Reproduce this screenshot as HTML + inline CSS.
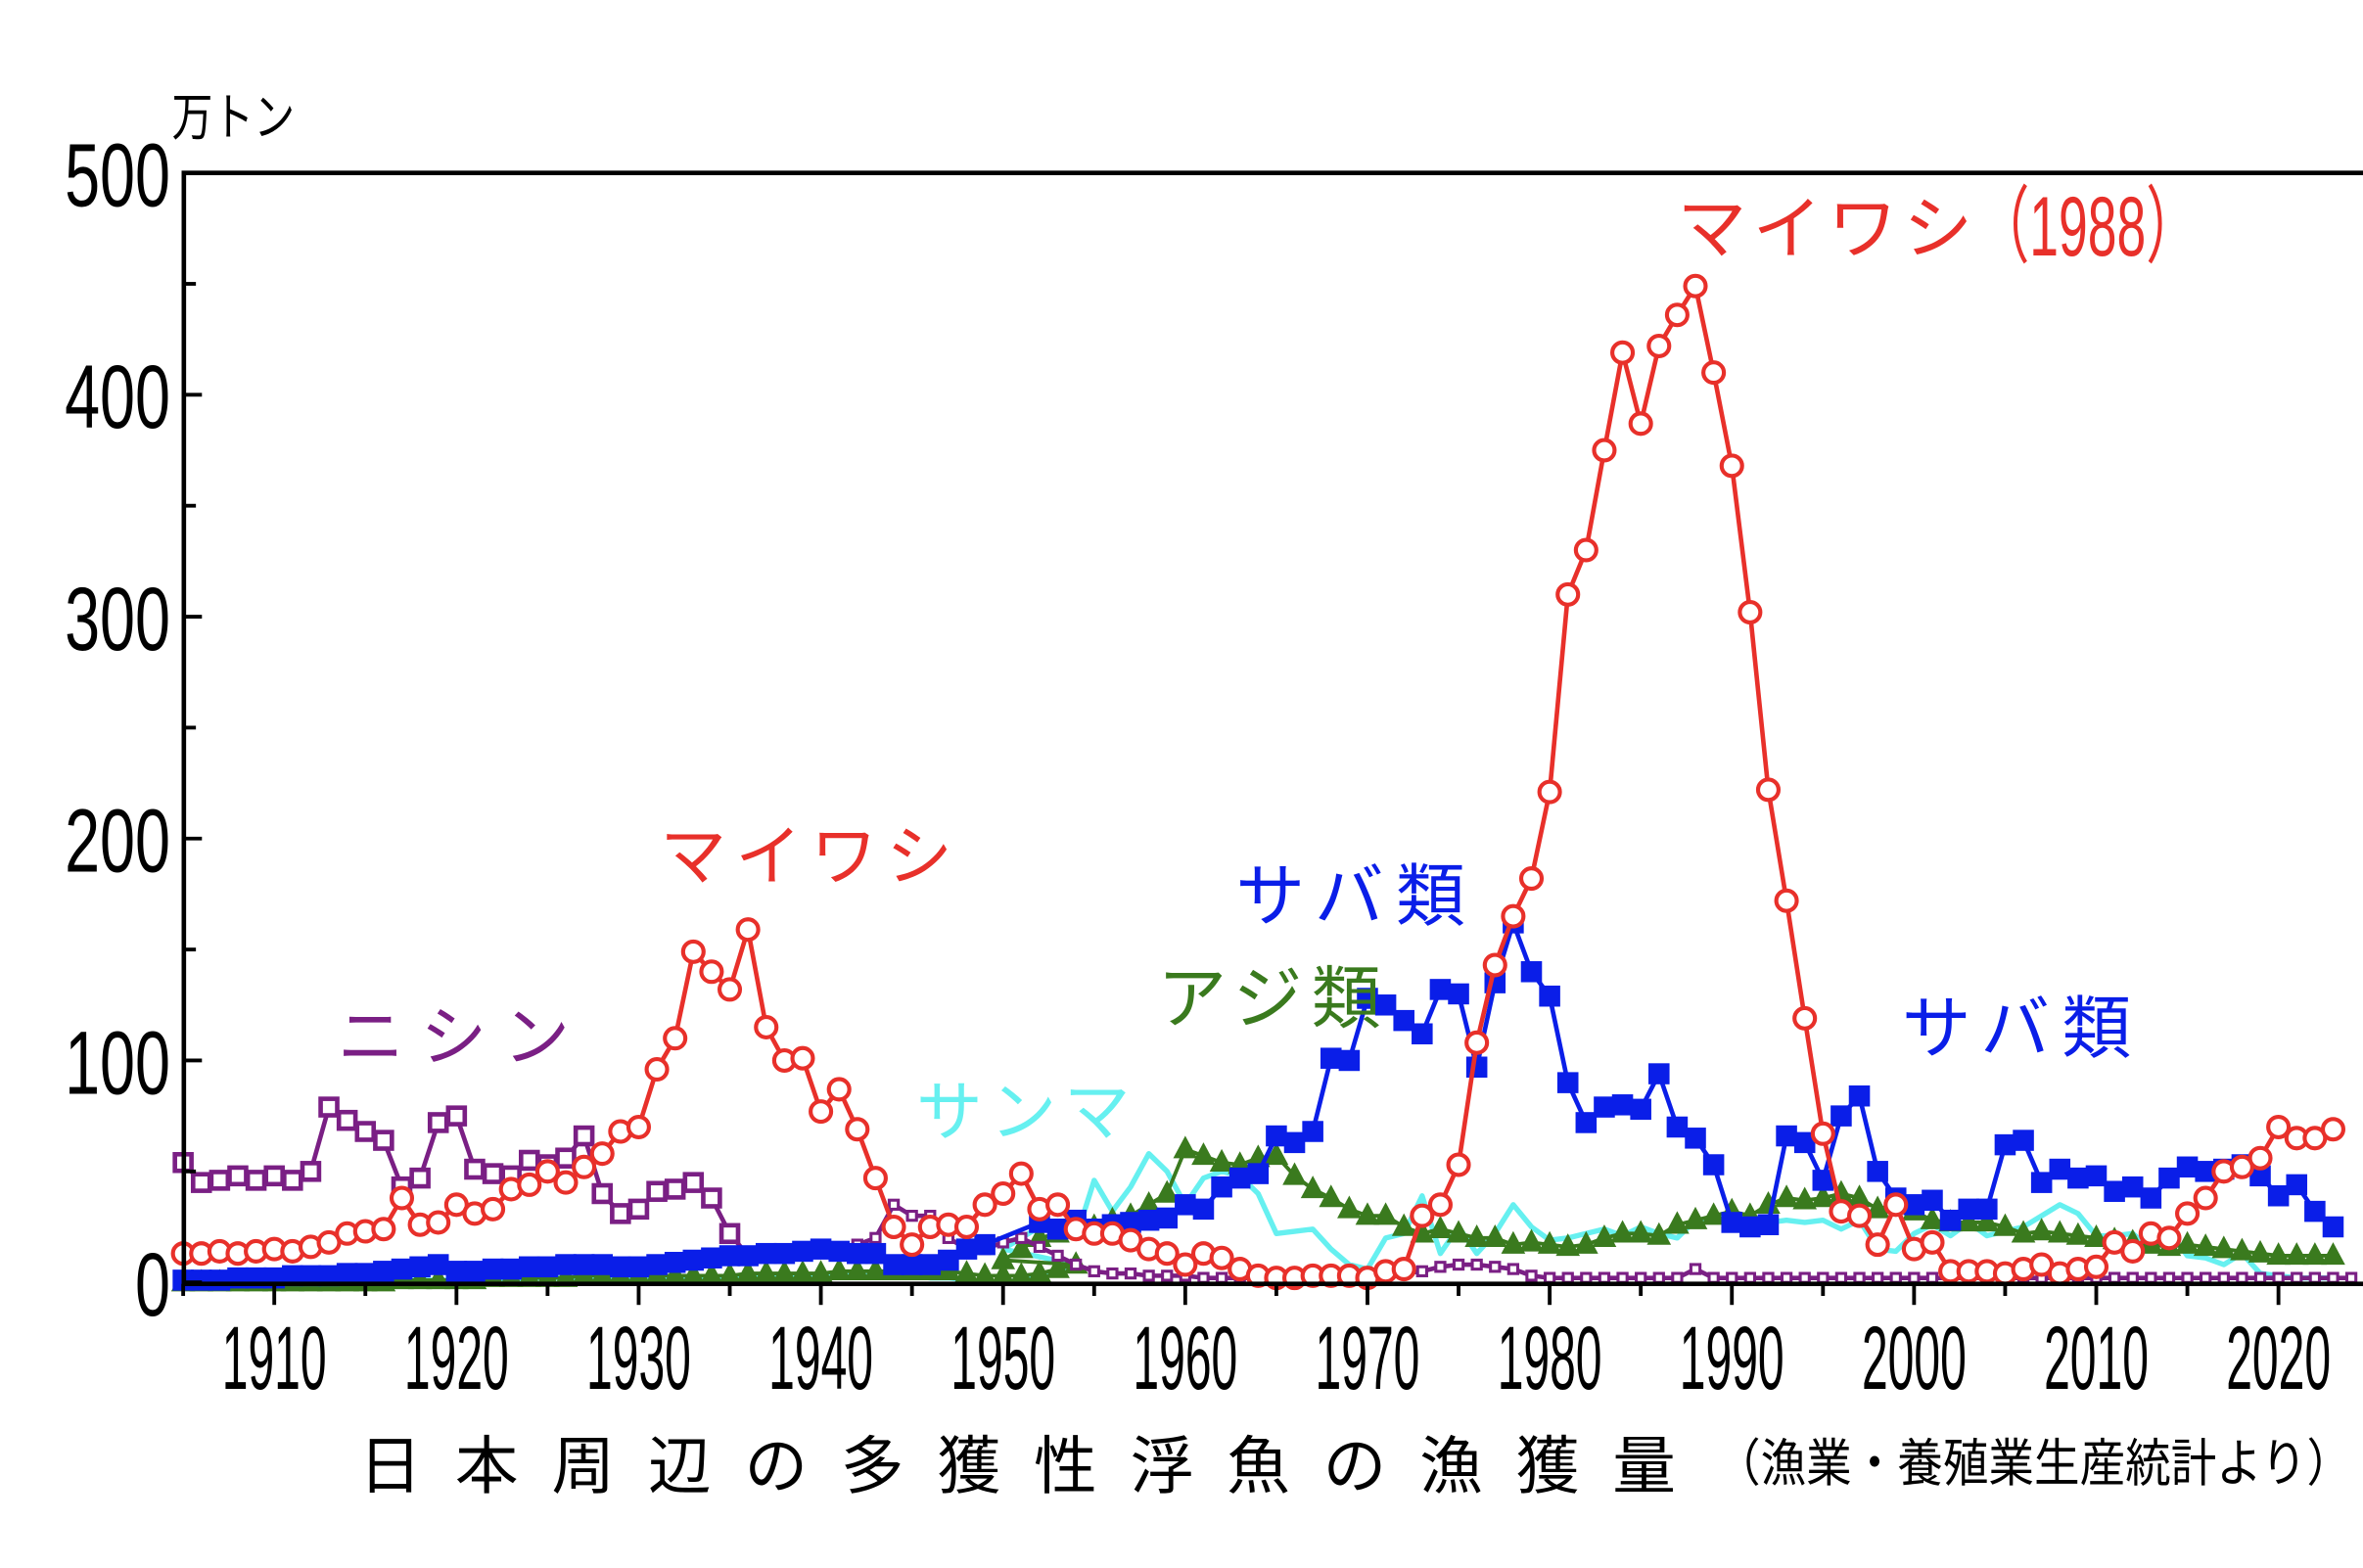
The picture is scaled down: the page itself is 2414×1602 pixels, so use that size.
<!DOCTYPE html>
<html><head><meta charset="utf-8"><style>
html,body{margin:0;padding:0;background:#fff;}
svg{display:block;}
text{font-family:"Liberation Sans","Noto Sans CJK JP",sans-serif;}
</style></head><body>
<svg id="s" width="2414" height="1602" viewBox="0 0 1568 1043" preserveAspectRatio="none" xmlns="http://www.w3.org/2000/svg">
<rect width="1568" height="1043" fill="#fff"/>
<g id="plot"></g>
<rect x="122" y="115" width="1450" height="739" fill="none" stroke="#000" stroke-width="3"/>
<g id="axes"></g>
<text x="114" y="90" font-size="34" transform="translate(114 0) scale(0.8 1) translate(-114 0)">万トン</text>
<g fill="#e8302a">
<text x="1113" y="168" font-size="46" letter-spacing="4">マイワシ</text>
<text x="1312" y="170" font-size="56" transform="translate(1312 0) scale(0.62 1) translate(-1312 0)">（1988）</text>
<text x="438" y="585" font-size="44" letter-spacing="6">マイワシ</text>
</g>
<text x="820" y="612" font-size="46" fill="#0a1ee8" letter-spacing="8">サバ類</text>
<text x="1262" y="700" font-size="46" fill="#0a1ee8" letter-spacing="8">サバ類</text>
<text x="768" y="680" font-size="46" fill="#3a7a1e" letter-spacing="6">アジ類</text>
<text x="224" y="705" font-size="44" fill="#7a1f84" letter-spacing="11">ニシン</text>
<text x="608" y="755" font-size="44" fill="#66f0f0" letter-spacing="5">サンマ</text>
<text x="238" y="990" font-size="42" letter-spacing="22">日本周辺の多獲性浮魚の漁獲量</text>
<text x="1138" y="985" font-size="34" transform="translate(1138 0) scale(0.89 1) translate(-1138 0)">（漁業・養殖業生産統計より）</text>
</svg>
<script>
const NS="http://www.w3.org/2000/svg";
const X=y=>182+(y-1910)*12.09, Y=v=>853-v*1.476;
const plot=document.getElementById('plot'), axes=document.getElementById('axes');
function el(t,a,p){const e=document.createElementNS(NS,t);for(const k in a)e.setAttribute(k,a[k]);(p||plot).appendChild(e);return e;}
function pairs(early,lateStart,late){const r=[];early.forEach((v,i)=>r.push([X(1905+i),Y(v)]));late.forEach((v,i)=>r.push([X(lateStart+i),Y(v)]));return r;}
function ser(start,vals){return vals.map((v,i)=>[X(start+i),Y(v)]);}
const sanmaE=[1,1,1,1,1,1,1,1,1,1,1,1,1,1,1,1,1,1,1,2,2,2,2,2,2,2,2,2,2,2,2,2,3,3,3,3,3,3,3,3,3,2,2,1,0,0,1,3,5,8];
const sanmaL=[15,20,25,22,20,46,32,43,58,50,35,47,50,48,40,22,23,24,15,8,6,20,22,39,13,25,13,22,35,25,19,20,22,24,21,25,22,20,28,28,31,30,27,28,27,28,24,28,15,14,22,26,21,27,21,23,25,30,35,31,21,21,22,15,23,12,11,8,13,4,3,2,2,2];
const ajiE=[0,0,0,0,0,0,0,0,0,0,0,0,1,1,1,1,1,2,2,2,2,2,3,3,3,3,3,3,3,3,3,4,4,4,4,4,5,5,5,5,5,5,5,4,3,3,3,4,6,8];
const ajiL=[10,15,20,22,24,25,28,30,35,40,60,57,54,53,56,57,48,42,38,33,30,30,25,22,24,22,20,20,17,18,17,16,17,20,22,22,21,26,28,30,32,30,35,38,37,38,40,38,33,35,32,28,27,27,27,25,22,23,22,21,20,19,18,17,16,17,16,15,14,13,12,12,12,12];
const nishin=[54,45,46,48,46,48,46,50,79,73,68,64,43,47,72,75,51,49,48,55,53,56,66,40,31,33,41,42,45,38,22,12,12,13,14,15,15,17,20,35,30,30,20,15,15,18,20,16,12,8,5,4,4,3,3,3,2,2,2,2,2,2,2,2,2,2,3,4,5,7,8,8,7,6,3,2,2,2,2,2,2,2,2,6,2,2,2,2,2,2,2,2,2,2,2,2,2,2,2,2,2,2,2,2,2,2,2,2,2,2,2,2,2,2,2,2,2,2,2,2];
const nishinBig=31;
const sabaE=[1,1,1,2,2,2,3,3,3,4,4,5,6,7,8,5,5,6,6,7,7,8,8,8,7,7,8,9,10,11,12,12,13,13,14,15,14,13,13,8,8,8,10,15,17];
const sabaL=[27,24,28,24,26,27,28,29,35,33,43,47,49,66,63,68,101,100,128,125,118,112,132,130,97,135,162,140,129,90,72,79,80,78,94,70,65,53,27,25,26,66,63,46,75,84,50,38,35,37,28,33,33,62,64,45,51,47,48,41,43,38,47,52,50,51,53,48,39,44,32,25];
const iwashi=[13,13,14,13,14,15,14,16,18,22,23,24,38,26,27,35,31,33,42,44,50,45,52,58,68,70,96,110,149,140,132,159,115,100,101,77,87,69,47,25,17,25,26,25,35,40,49,33,35,24,22,22,19,15,13,8,13,11,6,3,2,2,3,3,3,2,5,6,30,35,53,108,143,165,182,221,310,330,375,419,387,422,436,449,410,368,302,222,172,119,67,32,30,17,35,15,18,5,5,5,4,6,8,4,6,7,18,14,22,20,31,38,50,52,56,70,65,65,69];
function line(pts,c,w){el('polyline',{points:pts.map(p=>p.join(',')).join(' '),fill:'none',stroke:c,'stroke-width':w,'stroke-linejoin':'round'});}
line(pairs(sanmaE,1950,sanmaL),'#66f0f0',3.5);
const ap=pairs(ajiE,1950,ajiL);line(ap,'#3a7a1e',2.5);
ap.forEach(([x,y])=>el('polygon',{points:`${x},${y-9} ${x-8},${y+6} ${x+8},${y+6}`,fill:'#3a7a1e'}));
const np=ser(1905,nishin);line(np,'#7a1f84',3);
np.forEach(([x,y],i)=>{const s=i<nishinBig?11:6;el('rect',{x:x-s/2,y:y-s/2,width:s,height:s,fill:'#fff',stroke:'#7a1f84','stroke-width':i<nishinBig?3:2});});
const sp=pairs(sabaE,1952,sabaL);line(sp,'#0a1ee8',3);
sp.forEach(([x,y])=>el('rect',{x:x-7,y:y-7,width:14,height:14,fill:'#0a1ee8'}));
const ip=ser(1905,iwashi);line(ip,'#e8302a',3);
ip.forEach(([x,y])=>el('circle',{cx:x,cy:y,r:6.8,fill:'#fff',stroke:'#e8302a','stroke-width':2.7}));
for(let v=0;v<=500;v+=50){const y=Y(v);el('line',{x1:122,x2:v%100?130:134,y1:y,y2:y,stroke:'#000','stroke-width':2.5},axes);
 if(v%100===0){el('text',{x:113,y:y+22,'font-size':60,'text-anchor':'end',transform:`translate(113 0) scale(0.7 1) translate(-113 0)`},axes).textContent=v;}}
for(let yr=1905;yr<=2025;yr+=5){const x=X(yr);el('line',{x1:x,x2:x,y1:854,y2:yr%10?862:868,stroke:'#000','stroke-width':2.5},axes);
 if(yr%10===0){el('text',{x:x,y:924,'font-size':60,'text-anchor':'middle',transform:`translate(${x} 0) scale(0.52 1) translate(${-x} 0)`},axes).textContent=yr;}}
</script>
</body></html>
